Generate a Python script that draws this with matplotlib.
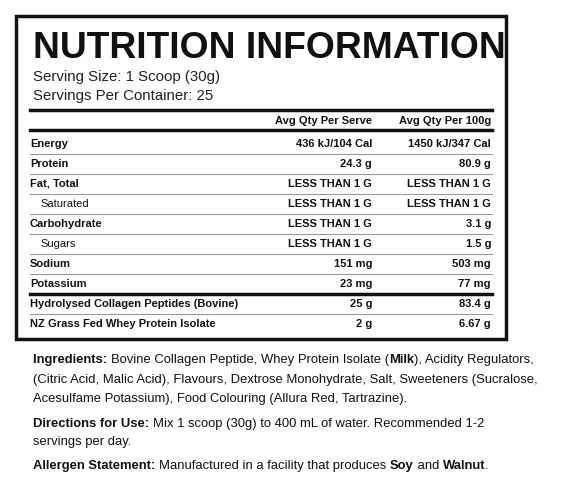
import matplotlib
matplotlib.use("Agg")
import matplotlib.pyplot as plt

nutrients = ["Energy", "Protein", "Fat, Total", "Saturated", "Carbohydrate", "Sugars",
             "Sodium", "Potassium", "Hydrolysed Collagen Peptides (Bovine)", "NZ Grass Fed Whey Protein Isolate"]
indent = [False, False, False, True, False, True, False, False, False, False]
per_serve = ["436 kJ/104 Cal", "24.3 g", "LESS THAN 1 G", "LESS THAN 1 G", "LESS THAN 1 G",
             "LESS THAN 1 G", "151 mg", "23 mg", "25 g", "2 g"]
per_100g = ["1450 kJ/347 Cal", "80.9 g", "LESS THAN 1 G", "LESS THAN 1 G", "3.1 g", "1.5 g",
            "503 mg", "77 mg", "83.4 g", "6.67 g"]
headers = ["Avg Qty Per Serve", "Avg Qty Per 100g"]

FAM = "Liberation Sans"
W, H = 563, 484
fig = plt.figure(figsize=(W/100, H/100), dpi=100)
ax = fig.add_axes([0, 0, 1, 1])
ax.set_xlim(0, W); ax.set_ylim(H, 0); ax.axis("off")
fig.canvas.draw()
r = fig.canvas.get_renderer()

def fit_size(txt, bold, width):
    t = ax.text(0, 0, txt, fontsize=10, family=FAM, fontweight="bold" if bold else "normal")
    w = t.get_window_extent(r).width
    t.remove()
    return 10 * width / w

ax.add_patch(plt.Rectangle((16, 16), 490, 323, fill=False, lw=2.5, ec="#111"))
ts = fit_size("NUTRITION INFORMATION", True, 470)
ax.text(33, 58, "NUTRITION INFORMATION", fontsize=ts, fontweight="bold",
        family=FAM, va="baseline", color="#111")

ss = fit_size("Serving Size: 1 Scoop (30g)", False, 187)
ax.text(33, 77, "Serving Size: 1 Scoop (30g)", fontsize=ss, family=FAM, va="center", color="#222")
ax.text(33, 96, "Servings Per Container: 25", fontsize=ss, family=FAM, va="center", color="#222")

L, R = 30, 492
c1, c2 = 372, 491
fs = fit_size("LESS THAN 1 G", True, 84)
ax.plot([L, R], [110, 110], color="#111", lw=2.5)
ax.plot([L, R], [130, 130], color="#111", lw=2.5)
for i, h in enumerate(headers):
    ax.text([c1, c2][i], 121, h, ha="right", va="center", fontsize=fs, fontweight="bold", family=FAM, color="#111")
for i in range(len(nutrients)):
    y = 144 + 20*i
    ax.text(L + (10 if indent[i] else 0), y, nutrients[i], va="center", fontsize=fs,
            fontweight="normal" if indent[i] else "bold", family=FAM, color="#111")
    ax.text(c1, y, per_serve[i], ha="right", va="center", fontsize=fs, fontweight="bold", family=FAM, color="#111")
    ax.text(c2, y, per_100g[i], ha="right", va="center", fontsize=fs, fontweight="bold", family=FAM, color="#111")
    if i < len(nutrients) - 1:
        yl = y + 10
        ax.plot([L, R], [yl, yl], color="#111" if i == 7 else "#999", lw=2.5 if i == 7 else 0.8)

bs = fit_size("(Citric Acid, Malic Acid), Flavours, Dextrose Monohydrate, Salt, Sweeteners (Sucralose,", False, 505)

def rich(x, y, parts):
    for txt, bold in parts:
        tt = ax.text(x, y, txt, va="center", fontsize=bs, family=FAM,
                     fontweight="bold" if bold else "normal", color="#111")
        x += tt.get_window_extent(r).width

rich(33, 360, [("Ingredients: ", True), ("Bovine Collagen Peptide, Whey Protein Isolate (", False),
               ("Milk", True), ("), Acidity Regulators,", False)])
rich(33, 380, [("(Citric Acid, Malic Acid), Flavours, Dextrose Monohydrate, Salt, Sweeteners (Sucralose,", False)])
rich(33, 399, [("Acesulfame Potassium), Food Colouring (Allura Red, Tartrazine).", False)])
rich(33, 424, [("Directions for Use: ", True), ("Mix 1 scoop (30g) to 400 mL of water. Recommended 1-2", False)])
rich(33, 442, [("servings per day.", False)])
rich(33, 466, [("Allergen Statement: ", True), ("Manufactured in a facility that produces ", False),
               ("Soy", True), (" and ", False), ("Walnut", True), (".", False)])

fig.savefig("out.png", dpi=100)
